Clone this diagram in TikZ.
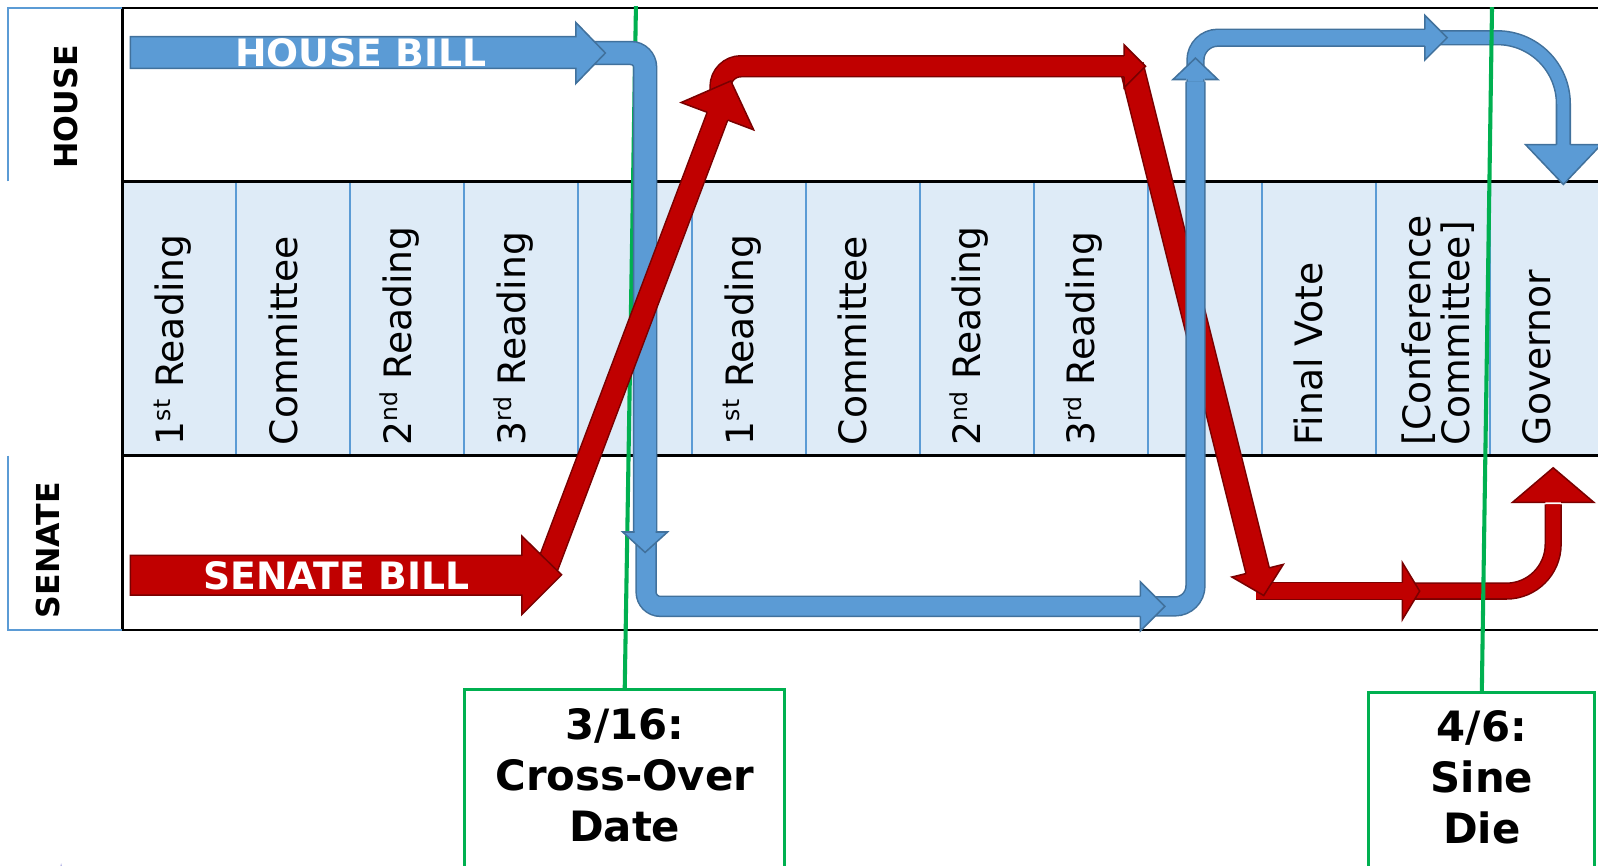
\documentclass[tikz,border=0pt]{standalone}
\usepackage{fontspec}
\setmainfont{DejaVu Sans}
\usepackage{tikz}
\usetikzlibrary{shapes.geometric}
\definecolor{billblue}{HTML}{5B9BD5}
\definecolor{billblueedge}{HTML}{41719C}
\definecolor{billred}{HTML}{C00000}
\definecolor{billrededge}{HTML}{7A0000}
\definecolor{bandfill}{HTML}{DEEBF7}
\definecolor{deadline}{HTML}{00B050}
\definecolor{starcol}{HTML}{B8B8E8}

\newcommand{\apice}[1]{\raisebox{13pt}{\fontsize{23}{23}\selectfont #1}}

\tikzset{
  blueshaft/.style={draw=billblueedge, line width=1.5pt, double=billblue, double distance=#1},
  redshaft/.style={draw=billrededge, line width=1.5pt, double=billred, double distance=#1},
  bluehead/.style={draw=billblueedge, line width=1.5pt, fill=billblue, line join=miter},
  redhead/.style={draw=billrededge, line width=1.5pt, fill=billred, line join=miter},
  stage/.style={rotate=90, anchor=base west, inner sep=0pt, font=\fontsize{37}{38}\selectfont},
  chamber/.style={rotate=90, inner sep=0pt, font=\bfseries\fontsize{31}{31}\selectfont},
  billname/.style={text=white, inner sep=0pt, font=\bfseries\fontsize{37}{37}\selectfont},
  datebox/.style={draw=deadline, line width=3pt, inner sep=0pt, anchor=north},
  datetext/.style={align=center, inner sep=0pt, font=\bfseries\fontsize{41}{50}\selectfont},
  deadlinepath/.style={draw=deadline, line width=4pt},
  tableline/.style={line width=2.5pt},
  sideline/.style={draw=billblue, line width=2pt},
}

\begin{document}
\begin{tikzpicture}[x=1pt, y=-1pt]
    \useasboundingbox (0,0) rectangle (1568,849);

    % Fasce
    \fill[bandfill] (120,178) rectangle (1572,447);
    \foreach \n in {1,...,12}
        \draw[sideline] ({120+\n*111.8},178) -- ({120+\n*111.8},447);
    \draw[tableline] (120,8) -- (1572,8) (120,178) -- (1572,178)
        (120,447) -- (1572,447) (120,618) -- (1572,618) (120,8) -- (120,618);
    \draw[sideline] (8,178) -- (8,8) -- (120,8);
    \draw[sideline] (8,447) -- (8,618) -- (120,618);

    \node[chamber] (house) at (65,105) {HOUSE};
    \node[chamber] (senate) at (47,540) {SENATE};

    % Fasi
    \foreach \n/\testo in {1/{1\apice{st} Reading}, 2/Committee, 3/{2\apice{nd} Reading},
        4/{3\apice{rd} Reading}, 6/{1\apice{st} Reading}, 7/Committee, 8/{2\apice{nd} Reading},
        9/{3\apice{rd} Reading}, 11/Final Vote, 13/Governor}
        \node[stage] (fase\n) at ({120+(\n-0.5)*111.8+4},437) {\testo};
    \node[stage, anchor=west, align=left] (fase12) at (1411,437) {[Conference\\Committee]};

    % Scadenze
    \node[datebox, minimum width=314pt, minimum height=180pt] (crossover) at (613,675) {};
    \node[datebox, minimum width=222pt, minimum height=177pt] (sinedie) at (1454,678) {};
    \node[datetext] (crossovertext) at (613,761) {3/16:\\Cross-Over\\Date};
    \node[datetext] (sinedietext) at (1454,763) {4/6:\\Sine\\Die};
    \coordinate (crosstop) at (624,6);
    \coordinate (sinetop) at (1464,7);
    \draw[deadlinepath] (crosstop) -- (crossover.north);

    % Senato, ritorno
    \draw[redshaft=14pt, rounded corners=46pt] (1385,580) -- (1524,580) -- (1524,495);
    \filldraw[redhead] (1516.25,493) -- (1484,493) -- (1524,459) -- (1564,493) -- (1531.75,493);
    \draw[redshaft=15pt] (1232,580) -- (1378,580);
    \filldraw[redhead] (1376,571.75) -- (1376,552) -- (1393,580) -- (1376,608) -- (1376,588.25);
    \draw[redshaft=22pt] (1110,64) -- (1234.5,562);
    \filldraw[redhead] (1222.6,562.8) -- (1208.8,566.2) -- (1240,584.3) -- (1259.2,553.8) -- (1245.4,557.2);

    % Camera
    \draw[blueshaft=12pt, rounded corners=65pt] (1405,37) -- (1534,37) -- (1534,144);
    \filldraw[bluehead] (1527.25,142) -- (1497,142) -- (1534,181) -- (1571,142) -- (1540.75,142);
    \draw[blueshaft=15pt, rounded corners=22pt] (1173,110) -- (1173,37) -- (1400,37);
    \filldraw[bluehead] (1398,28.75) -- (1398,15) -- (1420,37) -- (1398,59) -- (1398,45.25);
    \draw[blueshaft=17pt, rounded corners=20pt] (1125,595) -- (1173,595) -- (1173,80);
    \filldraw[bluehead] (1163.75,78) -- (1151,78) -- (1173,57) -- (1195,78) -- (1182.25,78);
    \draw[blueshaft=18pt, rounded corners=14pt] (634,510) -- (634,595) -- (1122,595);
    \filldraw[bluehead] (1119,585.25) -- (1119,571) -- (1143,595) -- (1119,619) -- (1119,604.75);
    \draw[blueshaft=21pt, rounded corners=14pt] (583,52) -- (633,52) -- (633,524);
    \filldraw[bluehead] (622.75,522) -- (611,522) -- (633,542) -- (655,522) -- (643.25,522);
    \filldraw[bluehead] (128,36) -- (565,36) -- (565,22) -- (594,52) -- (565,82) -- (565,67)
        -- (128,67) -- cycle;
    \node[billname] (housebill) at (354,52) {HOUSE BILL};

    % Senato
    \draw[redshaft=19pt, rounded corners=20pt] (707,112) -- (707,65) -- (1105,65);
    \filldraw[redhead] (1103,54.75) -- (1103,44) -- (1124,65) -- (1103,86) -- (1103,75.25);
    \draw[redshaft=20pt] (537,556) -- (704.7,112.1);
    \filldraw[redhead] (693.9,110.2) -- (668.4,100.6) -- (717.1,79.4) -- (739.5,127.4) -- (714.1,117.8);
    \filldraw[redhead] (128,545) -- (512,545) -- (512,526) -- (551,564) -- (512,603) -- (512,584)
        -- (128,584) -- cycle;
    \node[billname] (senatebill) at (330,565) {SENATE BILL};

    \draw[deadlinepath] (sinetop) -- (sinedie.north);

    \node[star, star points=8, star point ratio=2.2, fill=starcol, minimum size=22pt,
        inner sep=0pt] (logo) at (60,858) {};
\end{tikzpicture}
\end{document}
